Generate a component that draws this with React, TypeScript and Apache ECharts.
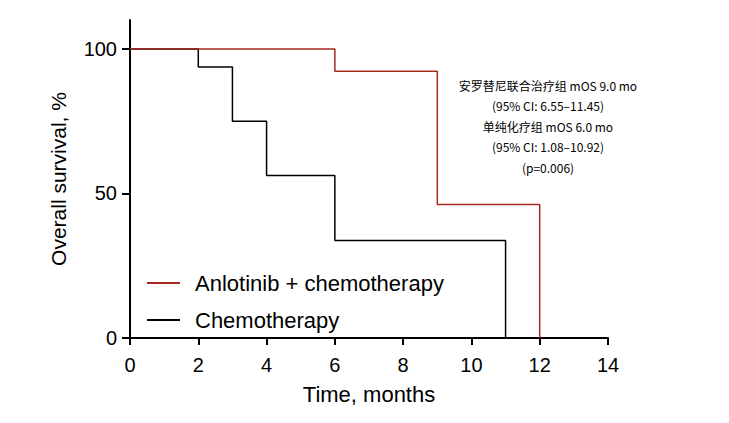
import React, { useEffect, useRef } from "react";
import * as echarts from "echarts";

const anlotinibTime = [0, 6, 9, 12];
const anlotinibSurv = [100, 92.3, 46.2, 0];
const chemoTime = [0, 2, 3, 4, 6, 11];
const chemoSurv = [100, 93.75, 75, 56.25, 33.7, 0];
const xTicks = [0, 2, 4, 6, 8, 10, 12, 14];
const yTicks = [0, 50, 100];
const annotation = [
  "安罗替尼联合治疗组 mOS 9.0 mo",
  "(95% CI: 6.55–11.45)",
  "单纯化疗组 mOS 6.0 mo",
  "(95% CI: 1.08–10.92)",
  "(p=0.006)",
];

export default function App() {
  const ref = useRef<HTMLDivElement>(null);
  useEffect(() => {
    const chart = echarts.init(ref.current!, null, { renderer: "svg" });
    const font = "'Liberation Sans', Arial, sans-serif";
    chart.setOption({
      animation: false,
      backgroundColor: "#fff",
      grid: { left: 130, right: 121, top: 20, bottom: 85 },
      xAxis: {
        type: "value",
        min: 0,
        max: 14,
        interval: 2,
        name: "Time, months",
        nameLocation: "middle",
        nameGap: 45,
        nameTextStyle: { fontSize: 22, color: "#000", fontFamily: font },
        axisLine: { lineStyle: { color: "#000", width: 2 } },
        axisTick: { length: 7, lineStyle: { color: "#000", width: 2 } },
        axisLabel: { fontSize: 20, color: "#000", fontFamily: font, margin: 17,
          customValues: xTicks },
        splitLine: { show: false },
      },
      yAxis: {
        type: "value",
        min: 0,
        max: 110,
        name: "Overall survival, %",
        nameLocation: "middle",
        nameGap: 61,
        nameTextStyle: { fontSize: 21, color: "#000", fontFamily: font },
        axisLine: { show: true, lineStyle: { color: "#000", width: 2 } },
        axisTick: { show: true, length: 8, lineStyle: { color: "#000", width: 2 },
          customValues: yTicks },
        axisLabel: { fontSize: 20, color: "#000", fontFamily: font, margin: 13,
          customValues: yTicks },
        splitLine: { show: false },
      },
      legend: {
        orient: "vertical",
        left: 142,
        top: 267,
        itemWidth: 33,
        itemHeight: 2,
        itemGap: 15,
        icon: "rect",
        textStyle: { fontSize: 22, color: "#000", fontFamily: font, padding: [0, 0, 0, 10] },
        data: ["Anlotinib + chemotherapy", "Chemotherapy"],
      },
      series: [
        {
          name: "Chemotherapy",
          type: "line",
          step: "end",
          symbol: "none",
          color: "#000",
          lineStyle: { color: "#000", width: 1.5 },
          data: chemoTime.map((t, i) => [t, chemoSurv[i]]),
          z: 2,
        },
        {
          name: "Anlotinib + chemotherapy",
          type: "line",
          step: "end",
          symbol: "none",
          color: "#A8281E",
          lineStyle: { color: "#A8281E", width: 1.5 },
          data: anlotinibTime.map((t, i) => [t, anlotinibSurv[i]]),
          z: 3,
        },
      ],
      graphic: annotation.map((s, i) => ({
        type: "text",
        x: 548,
        y: 85 + i * 20.5,
        style: {
          text: s,
          fontSize: 12,
          fill: "#000",
          fontFamily: "'Noto Sans CJK SC', sans-serif",
          align: "center",
          verticalAlign: "middle",
        },
      })),
    });
    return () => chart.dispose();
  }, []);
  return <div ref={ref} style={{ width: 729, height: 423, position: "absolute", left: 0, top: 0 }} />;
}
